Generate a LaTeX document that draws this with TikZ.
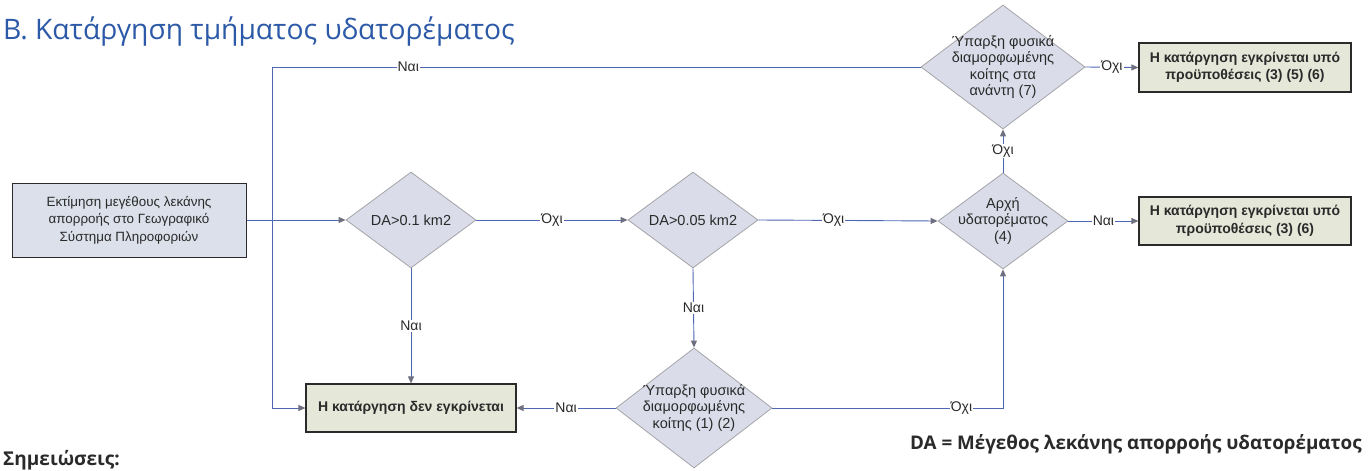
\documentclass[tikz,border=0pt]{standalone}
\usepackage{fontspec}
\setmainfont{Liberation Sans}
\newfontfamily\titlefont{Open Sans}
\usetikzlibrary{shapes.geometric,arrows.meta,positioning}
\definecolor{titleblue}{HTML}{2C5AA8}
\definecolor{lineblue}{HTML}{4F68B4}
\definecolor{tipgray}{HTML}{6E7080}
\definecolor{diafill}{HTML}{DADDE9}
\definecolor{diadraw}{HTML}{A4A4A8}
\definecolor{startfill}{HTML}{DCE0EB}
\definecolor{endfill}{HTML}{E5E7D9}
\definecolor{darktext}{HTML}{2A2A2A}
\tikzset{
  conn/.style={draw=lineblue, line width=0.9pt},
  arr/.style={conn, -{Triangle[length=7pt,width=6pt,color=tipgray]}},
  lbl/.style={fill=white, inner sep=1pt, font=\fontsize{14}{15}\selectfont, text=darktext},
  dia/.style={diamond, draw=diadraw, fill=diafill, line width=0.8pt, inner sep=0pt},
  dtext/.style={align=center, inner sep=0pt, text=darktext, font=\fontsize{14.5}{16.5}\selectfont},
  startbox/.style={rectangle, draw=darktext, fill=startfill, line width=1pt, align=center,
    text=darktext, font=\fontsize{13.4}{17.5}\selectfont},
  endbox/.style={rectangle, draw=darktext, fill=endfill, line width=1.2pt, align=center,
    text=darktext, font=\bfseries\fontsize{14}{17.5}\selectfont},
}
\begin{document}
\begin{tikzpicture}[x=1pt, y=-1pt]
\useasboundingbox (0,0) rectangle (1369,471);
\fill[white] (0,0) rectangle (1369,471);

% title and notes
\node[anchor=base west, inner sep=0pt, text=titleblue, font=\titlefont\fontsize{28.2}{31}\selectfont] (title) at (3,39) {Β. Κατάργηση τμήματος υδατορέματος};
\node[anchor=base west, inner sep=0pt, text=darktext, font=\titlefont\bfseries\fontsize{19}{21}\selectfont] (notes) at (3,465) {Σημειώσεις:};
\node[anchor=base east, inner sep=0pt, text=darktext, font=\titlefont\bfseries\fontsize{18.8}{20}\selectfont] (legend) at (1362,449) {DA = Μέγεθος λεκάνης απορροής υδατορέματος};

% boxes
\node[startbox, minimum width=234pt, minimum height=74pt] (start) at (129,220)
  {Εκτίμηση μεγέθους λεκάνης\\απορροής στο Γεωγραφικό\\Σύστημα Πληροφοριών};
\node[endbox, minimum width=210pt, minimum height=48pt] (no) at (411,408) {Η κατάργηση δεν εγκρίνεται};
\node[endbox, minimum width=212pt, minimum height=49pt] (yes2) at (1245,67.5) {Η κατάργηση εγκρίνεται υπό\\προϋποθέσεις (3) (5) (6)};
\node[endbox, minimum width=212pt, minimum height=48pt] (yes1) at (1245,221) {Η κατάργηση εγκρίνεται υπό\\προϋποθέσεις (3) (6)};

% diamonds
\node[dia, minimum width=130pt, minimum height=96pt] (d1) at (411,220) {};
\node[dtext] (t1) at (d1) {DA>0.1 km2};
\node[dia, minimum width=130pt, minimum height=96pt] (d2) at (693,220) {};
\node[dtext] (t2) at (d2) {DA>0.05 km2};
\node[dia, minimum width=130pt, minimum height=96pt] (d3) at (1003,221) {};
\node[dtext] (t3) at (d3) {Αρχή\\υδατορέματος\\(4)};
\node[dia, minimum width=164pt, minimum height=124pt] (d4) at (1003,67) {};
\node[dtext] (t4) at (d4) {Ύπαρξη φυσικά\\διαμορφωμένης\\κοίτης στα\\ανάντη (7)};
\node[dia, minimum width=156pt, minimum height=120pt] (d5) at (694,408) {};
\node[dtext] (t5) at (d5) {Ύπαρξη φυσικά\\διαμορφωμένης\\κοίτης (1) (2)};

\coordinate (jx) at (272,67);

% connectors
\draw[arr] (start.east) -- (d1.west);
\draw[arr] (d4.west) -- node[lbl, pos=0.79] {Ναι} (jx) |- (no.west);
\draw[arr] (d1.east) -- node[lbl] {Όχι} (d2.west);
\draw[arr] (d2.east) -- node[lbl, pos=0.42] {Όχι} (d3.west);
\draw[arr] (d3.east) -- node[lbl] {Ναι} (yes1.west);
\draw[arr] (d3.north) -- node[lbl] {Όχι} (d4.south);
\draw[arr] (d4.east) -- node[lbl] {Όχι} (yes2.west);
\draw[arr] (d1.south) -- node[lbl] {Ναι} (no.north);
\draw[arr] (d2.south) -- node[lbl] {Ναι} (d5.north);
\draw[arr] (d5.west) -- node[lbl] {Ναι} (no.east);
\draw[arr] (d5.east) -| node[lbl, pos=0.41] {Όχι} (d3.south);
\end{tikzpicture}
\end{document}
